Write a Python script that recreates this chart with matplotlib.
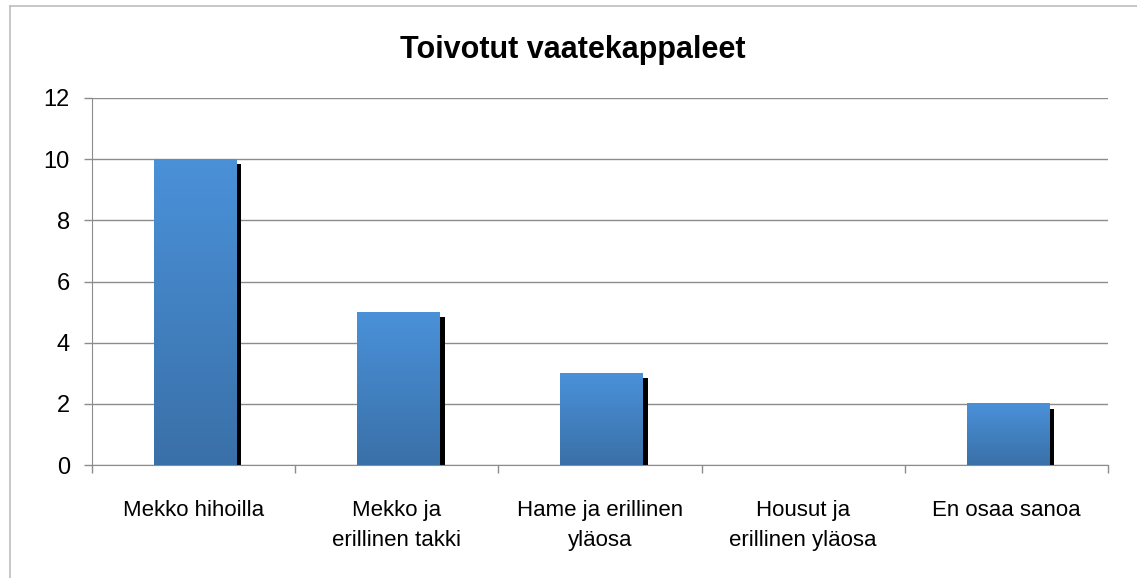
import matplotlib.pyplot as plt
import numpy as np
from matplotlib.lines import Line2D

categories = ["Mekko hihoilla", "Mekko ja\nerillinen takki", "Hame ja erillinen\nyläosa",
              "Housut ja\nerillinen yläosa", "En osaa sanoa"]
values = [10, 5, 3, 0, 2]
yticks = [0, 2, 4, 6, 8, 10, 12]

plt.rcParams['font.family'] = ['Liberation Sans', 'DejaVu Sans']

W, H = 1137, 578
fig = plt.figure(figsize=(W/100, H/100), dpi=100)
ax = fig.add_axes([92/W, 1-465/H, (1108-92)/W, (465-98)/H])

x = np.arange(len(categories))
bw = 0.405
# shadow: a few pixels right and down
dx = 5/203.2
dy = 5/30.6
cmap = plt.matplotlib.colors.LinearSegmentedColormap.from_list("g", ["#4a91d9", "#3a70a8"])
for xi, v in zip(x, values):
    if v <= 0:
        continue
    ax.bar(xi + 0.008 + dx, v - dy, width=bw, bottom=0, color="black", zorder=2)
    grad = np.linspace(0, 1, 256).reshape(-1, 1)
    ax.imshow(grad, cmap=cmap, aspect="auto",
              extent=(xi + 0.008 - bw/2, xi + 0.008 + bw/2, 0, v), origin="upper", zorder=3)

ax.set_xlim(-0.5, len(categories) - 0.5)
ax.set_ylim(0, 12)
ax.set_yticks(yticks)
ax.set_yticklabels([str(t) for t in yticks], fontsize=17)
ax.grid(axis="y", color="#8c8c8c", linewidth=1)
ax.set_axisbelow(True)

ax.set_xticks(x)
ax.set_xticklabels(categories, fontsize=16, linespacing=1.55)
ax.tick_params(axis="x", length=0, pad=25)
ax.set_xticks(np.arange(-0.5, len(categories)), minor=True)
ax.tick_params(axis="x", which="minor", length=6, color="#8c8c8c", width=1)
ax.tick_params(axis="y", length=6, color="#8c8c8c", width=1, pad=10)

for s in ["top", "right"]:
    ax.spines[s].set_visible(False)
ax.spines["left"].set_color("#8c8c8c")
ax.spines["bottom"].set_color("#8c8c8c")

fig.text(573/W, 1-50/H, "Toivotut vaatekappaleet", ha="center", va="center",
         fontsize=22, fontweight="bold")

# chart frame
fig.add_artist(Line2D([10/W, 10/W], [0, 1-6/H], color="#bdbdbd", linewidth=1.2))
fig.add_artist(Line2D([10/W, 1], [1-6/H, 1-6/H], color="#bdbdbd", linewidth=1.2))

fig.savefig("out.png", dpi=100)
